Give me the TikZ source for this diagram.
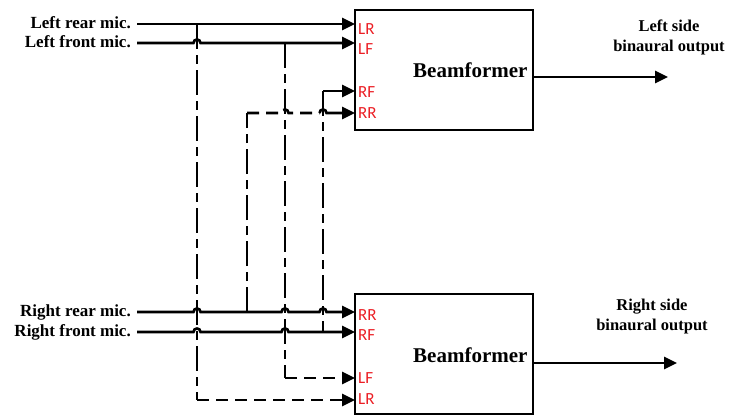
\documentclass[tikz,border=0pt]{standalone}
\usepackage{fontspec}
\setmainfont{Liberation Serif}
\newfontfamily\portfont{Carlito}
\usetikzlibrary{arrows.meta}
\definecolor{portred}{RGB}{235,30,36}
\newcommand{\hop}[1]{-- ([xshift=-3.5pt]#1) .. controls ([xshift=-3.5pt,yshift=4.7pt]#1) and ([xshift=3.5pt,yshift=4.7pt]#1) .. ([xshift=3.5pt]#1)}
\begin{document}
\begin{tikzpicture}[x=1pt,y=-1pt,
  sig/.style={line width=2.6pt},
  vdash/.style={line width=2.6pt, dash pattern=on 25pt off 6pt on 9pt off 6pt},
  hdash/.style={line width=2.6pt, dash pattern=on 12pt off 7pt},
  tip/.style={-{Triangle[length=13pt,width=12pt]}},
  bfbox/.style={draw, line width=2.3pt, minimum width=178pt, minimum height=120pt, inner sep=0pt, outer sep=0pt},
  mic/.style={font=\bfseries\fontsize{17}{20}\selectfont, anchor=base east, inner sep=0pt},
  bftext/.style={font=\bfseries\fontsize{21}{24}\selectfont, anchor=base west, inner sep=0pt},
  outtext/.style={font=\bfseries\fontsize{16.5}{20}\selectfont, anchor=base, inner sep=0pt},
  port/.style={font=\portfont\fontsize{17}{20}\selectfont, text=portred, anchor=west, inner sep=0pt}]
\useasboundingbox (0,0) rectangle (729,418);

% boxes
\node[bfbox] (bf1) at (444,70) {};
\node[bfbox] (bf2) at (444,354) {};
\node[bftext] (bt1) at (413,77) {Beamformer};
\node[bftext] (bt2) at (413,362) {Beamformer};

% mic labels
\node[mic] (mlr) at (131,28) {Left rear mic.};
\node[mic] (mlf) at (131,47) {Left front mic.};
\node[mic] (mrr) at (131,316) {Right rear mic.};
\node[mic] (mrf) at (131,336) {Right front mic.};

% output labels
\node[outtext] (o1a) at (669,31) {Left side};
\node[outtext] (o1b) at (669,51) {binaural output};
\node[outtext] (o2a) at (652,310) {Right side};
\node[outtext] (o2b) at (652,330) {binaural output};

% port labels
\node[port] (p1) at (358,29) {LR};
\node[port] (p2) at (358,49) {LF};
\node[port] (p3) at (358,92) {RF};
\node[port] (p4) at (358,113) {RR};
\node[port] (q1) at (358,315) {RR};
\node[port] (q2) at (358,335) {RF};
\node[port] (q3) at (358,378) {LF};
\node[port] (q4) at (358,399) {LR};

% coordinates
\coordinate (lrS) at (137,24);
\coordinate (lfS) at (137,43);
\coordinate (rrS) at (137,312);
\coordinate (rfS) at (137,332);
\coordinate (v1t) at (197,24);
\coordinate (v1b) at (197,400);
\coordinate (v2t) at (285,43);
\coordinate (v2b) at (285,378);
\coordinate (v3t) at (247,113);
\coordinate (v3b) at (247,312);
\coordinate (v4t) at (323,91);
\coordinate (v4b) at (323,332);
\coordinate (h1) at (v1t |- lfS);
\coordinate (h2) at (v2t |- v3t);
\coordinate (h3) at (v4t |- v3t);
\coordinate (h4) at (v1t |- rrS);
\coordinate (h5) at (v2t |- rrS);
\coordinate (h6) at (v4t |- rrS);
\coordinate (h7) at (v1t |- rfS);
\coordinate (h8) at (v2t |- rfS);
\coordinate (out1) at (668,77);
\coordinate (out2) at (677,363);

% input lines (solid)
\draw[sig,tip] (lrS) -- (bf1.west |- lrS);
\draw[sig,tip] (lfS) \hop{h1} -- (bf1.west |- lfS);
\draw[sig,tip] (rrS) \hop{h4} \hop{h5} \hop{h6} -- (bf2.west |- rrS);
\draw[sig,tip] (rfS) \hop{h7} \hop{h8} -- (bf2.west |- rfS);

% cross-feeds
\draw[vdash] (v1t) -- (v1b);
\draw[hdash,tip] (v1b) -- (bf2.west |- v1b);
\draw[vdash] (v2t) -- (v2b);
\draw[hdash,tip] (v2b) -- (bf2.west |- v2b);
\draw[vdash] (v3b) -- (v3t);
\draw[hdash] (v3t) \hop{h2} -- ([xshift=-3.5pt]h3);
\draw[sig,tip] ([xshift=-3.5pt]h3) \hop{h3} -- (bf1.west |- v3t);
\draw[vdash] (v4t) -- (v4b);
\draw[sig,tip] (v4t) -- (bf1.west |- v4t);

% outputs
\draw[sig,tip] (bf1.east |- out1) -- (out1);
\draw[sig,tip] (bf2.east |- out2) -- (out2);
\end{tikzpicture}
\end{document}
